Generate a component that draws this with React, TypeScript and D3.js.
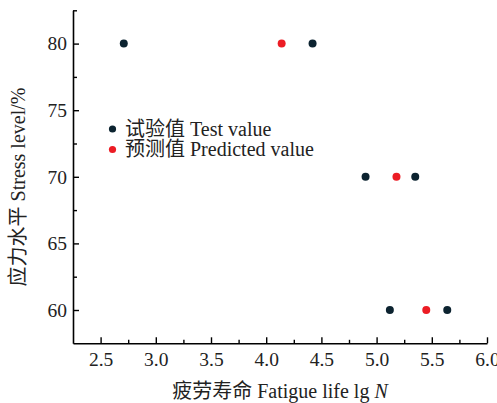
import React, { useEffect, useRef } from 'react';
import * as d3 from 'd3';

// 疲劳寿命 lg N vs 应力水平 (%)
const testLife = [2.71, 4.42, 4.9, 5.35, 5.12, 5.64];
const testStress = [80, 80, 70, 70, 60, 60];
const predLife = [4.14, 5.18, 5.45];
const predStress = [80, 70, 60];

const xMajor = [2.5, 3.0, 3.5, 4.0, 4.5, 5.0, 5.5, 6.0];
const xMinor = [2.75, 3.25, 3.75, 4.25, 4.75, 5.25, 5.75];
const yMajor = [60, 65, 70, 75, 80];
const yMinor = [62.5, 67.5, 72.5, 77.5, 82.5];

const legendLabels = ['试验值 Test value', '预测值 Predicted value'];
const legendColors = ['#0c2330', '#ec1c24'];

const FONT = '"Liberation Serif", "Times New Roman", "Noto Sans CJK SC", serif';

export default function App() {
  const node = useRef<SVGSVGElement>(null);

  useEffect(() => {
    const svg = d3.select(node.current);
    svg.selectAll('*').remove();

    const x = d3.scaleLinear().domain([2.25, 6.0]).range([73, 487]);
    const y = d3.scaleLinear().domain([57.5, 82.5]).range([343.3, 10.3]);

    // x axis, ticks pointing inward
    const gx = svg.append('g').attr('transform', 'translate(0,343.3)');
    gx.call(
      d3.axisBottom(x).tickValues(xMajor).tickSize(-6).tickSizeOuter(0).tickPadding(9)
        .tickFormat(d3.format('.1f'))
    );
    gx.append('g').call(
      d3.axisBottom(x).tickValues(xMinor).tickSize(-3.5).tickSizeOuter(0).tickFormat(() => '')
    ).select('.domain').remove();

    const gy = svg.append('g').attr('transform', 'translate(73,0)');
    gy.call(
      d3.axisLeft(y).tickValues(yMajor).tickSize(-6).tickSizeOuter(0).tickPadding(6)
    );
    gy.append('g').call(
      d3.axisLeft(y).tickValues(yMinor).tickSize(-4).tickSizeOuter(0).tickFormat(() => '')
    ).select('.domain').remove();

    svg.selectAll('.domain').attr('stroke', '#000').attr('stroke-width', 1.6);
    svg.selectAll('.tick line').attr('stroke', '#000').attr('stroke-width', 1.4);
    svg.selectAll('.tick text')
      .attr('fill', '#222')
      .style('font-family', FONT)
      .style('font-size', '19.5px');

    // points
    svg.append('g').selectAll('circle')
      .data(testLife)
      .enter()
      .append('circle')
      .attr('cx', d => x(d))
      .attr('cy', (d, i) => y(testStress[i]))
      .attr('r', 4)
      .attr('fill', legendColors[0]);

    svg.append('g').selectAll('circle')
      .data(predLife)
      .enter()
      .append('circle')
      .attr('cx', d => x(d))
      .attr('cy', (d, i) => y(predStress[i]))
      .attr('r', 4)
      .attr('fill', legendColors[1]);

    // legend
    const lg = svg.append('g');
    legendLabels.forEach((t, i) => {
      const cy = 129 + i * 20.5;
      lg.append('circle').attr('cx', 112.5).attr('cy', cy).attr('r', 3.6).attr('fill', legendColors[i]);
      lg.append('text')
        .attr('x', 125)
        .attr('y', cy + 6.5)
        .attr('fill', '#222')
        .style('font-family', FONT)
        .style('font-size', '20px')
        .text(t);
    });

    // axis titles
    const xt = svg.append('text')
      .attr('x', 280)
      .attr('y', 398)
      .attr('text-anchor', 'middle')
      .attr('fill', '#222')
      .style('font-family', FONT)
      .style('font-size', '20px');
    xt.append('tspan').text('疲劳寿命 Fatigue life lg ');
    xt.append('tspan').style('font-style', 'italic').text('N');

    svg.append('text')
      .attr('transform', 'translate(25,187) rotate(-90)')
      .attr('text-anchor', 'middle')
      .attr('fill', '#222')
      .style('font-family', FONT)
      .style('font-size', '20px')
      .text('应力水平 Stress level/%');
  }, []);

  return (
    <svg
      ref={node}
      width={497}
      height={403}
      style={{ position: 'absolute', left: 0, top: 0, background: '#fff' }}
    />
  );
}
